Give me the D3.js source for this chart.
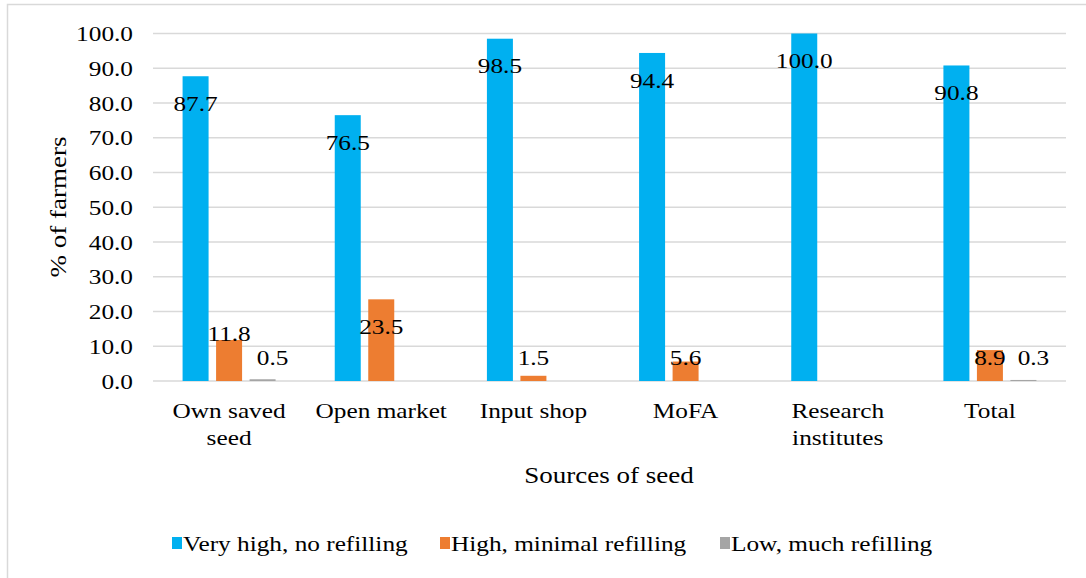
<!DOCTYPE html>
<html><head><meta charset="utf-8">
<script src="https://cdn.jsdelivr.net/npm/d3@7"></script>
<style>body{margin:0;background:#fff;} text{font-family:'Liberation Serif','Times New Roman',serif;}</style>
</head><body><svg id="c" width="1086" height="578"></svg>
<script>
const categories = [["Own saved","seed"],["Open market"],["Input shop"],["MoFA"],["Research","institutes"],["Total"]];
const seriesNames = ["Very high, no refilling","High, minimal refilling","Low, much refilling"];
const seriesColors = ["#00B0F0","#ED7D31","#A5A5A5"];
const veryHigh = [87.7,76.5,98.5,94.4,100.0,90.8];
const highMinimal = [11.8,23.5,1.5,5.6,null,8.9];
const lowMuch = [0.5,null,null,null,null,0.3];
const yTicks = [0,10,20,30,40,50,60,70,80,90,100];
const seriesValues = [veryHigh, highMinimal, lowMuch];

const FS = 22, SX = 1.15;
const svg = d3.select("#c");
function T(g, x, y, txt, size, anchor, rot){
  return g.append("text")
    .attr("transform", `translate(${x},${y})` + (rot?` rotate(${rot})`:"") + ` scale(${SX},1)`)
    .attr("dy","0.35em").attr("text-anchor",anchor||"start")
    .attr("font-size",size).attr("fill","#000").text(txt);
}
svg.append("rect").attr("x",7.5).attr("y",4.5).attr("width",1100).attr("height",600)
  .attr("fill","none").attr("stroke","#d9d9d9").attr("stroke-width",1.5);

const catIdx = categories.map((d,i)=>i);
const x0 = d3.scaleBand().domain(catIdx).range([153,1066]).padding(0);
const x1 = d3.scaleBand().domain([0,1,2]).range([0,x0.bandwidth()]).paddingInner(0.224).paddingOuter(0.883);
const y = d3.scaleLinear().domain([0,100]).range([381,33.5]);

svg.append("g").selectAll("line").data(yTicks).join("line")
  .attr("x1",153).attr("x2",1066).attr("y1",d=>y(d)).attr("y2",d=>y(d))
  .attr("stroke","#d9d9d9").attr("stroke-width",1.5);

const gt = svg.append("g");
yTicks.forEach(d=>T(gt,133,y(d),d.toFixed(1),FS,"end"));

const barData = [];
seriesValues.forEach((arr,s)=>arr.forEach((v,i)=>{ if(v!==null) barData.push({s,i,v}); }));
svg.append("g").selectAll("rect").data(barData).join("rect")
  .attr("x",d=>x0(d.i)+x1(d.s)).attr("width",x1.bandwidth())
  .attr("y",d=>y(d.v)).attr("height",d=>y(0)-y(d.v))
  .attr("fill",d=>seriesColors[d.s]);

function labelY(v){
  const h = y(0)-y(v);
  if (h > 60) return y(v)+27;
  if (h > 35) return y(v)-7;
  return y(0)-24;
}
const gl = svg.append("g");
barData.forEach(d=>T(gl, x0(d.i)+x1(d.s)+x1.bandwidth()/2 + (d.s===2?10:0),
  labelY(d.v), d.v.toFixed(1), FS, "middle"));

const cl = svg.append("g");
categories.forEach((lines,i)=>{
  const cx = x0(i)+x0.bandwidth()/2;
  lines.forEach((ln,k)=>T(cl, cx, 410+k*27, ln, FS, "middle"));
});

T(svg, 58, 207, "% of farmers", 23.5, "middle", -90);
T(svg, 609, 475, "Sources of seed", 23.5, "middle");

const legX = [172,440,720];
const lg = svg.append("g");
seriesNames.forEach((n,i)=>{
  lg.append("rect").attr("x",legX[i]).attr("y",537).attr("width",10).attr("height",12).attr("fill",seriesColors[i]);
  T(lg, legX[i]+11, 543, n, FS, "start");
});
</script></body></html>
